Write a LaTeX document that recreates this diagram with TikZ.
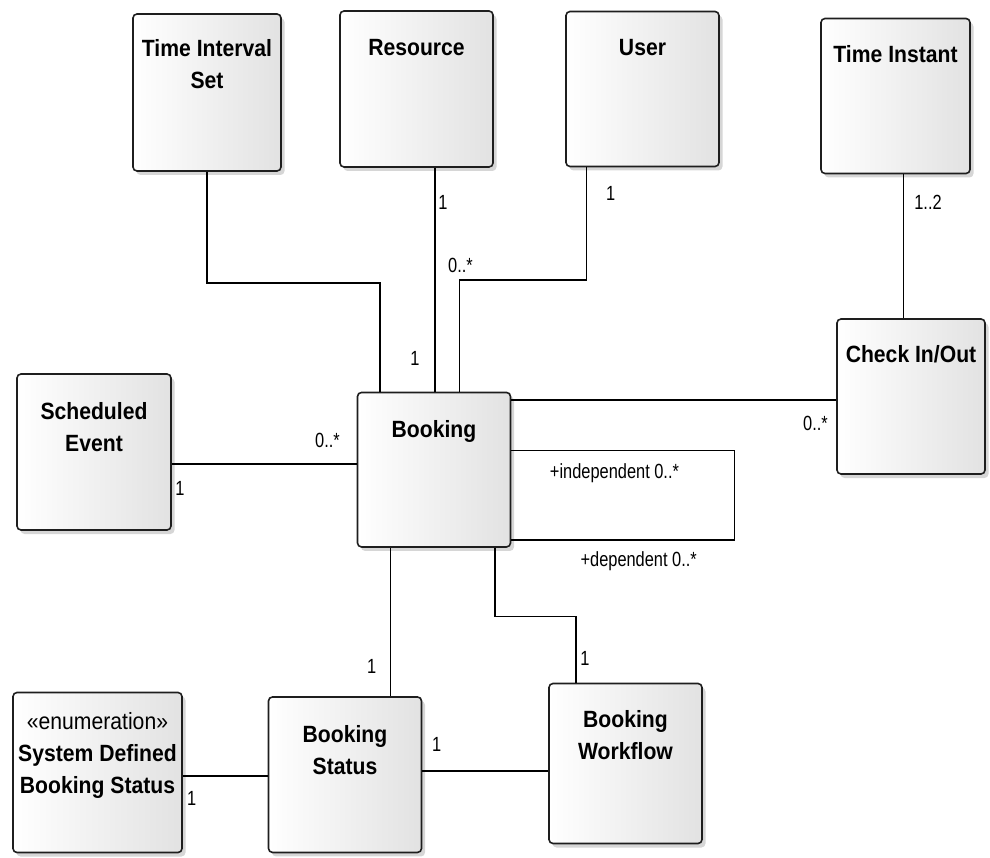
\documentclass[tikz,border=0pt]{standalone}
\usepackage{fontspec}
\newfontfamily\ttlfont{Liberation Sans}[FakeStretch=0.9]
\newfontfamily\lblfont{Liberation Sans}[FakeStretch=0.8]
\usetikzlibrary{shadows}
\definecolor{boxline}{RGB}{30,30,30}
\definecolor{boxgray}{RGB}{226,226,226}
\begin{document}
\begin{tikzpicture}[x=1pt,y=-1pt,
  umlbox/.style={draw=boxline, line width=1.6pt, rounded corners=4pt,
    left color=white, right color=boxgray,
    drop shadow={shadow xshift=3.5pt, shadow yshift=-4pt, fill=black, opacity=0.16},
    inner sep=0pt},
  ttl/.style={font=\ttlfont\bfseries\fontsize{23.5}{32}\selectfont, align=center,
    inner sep=0pt, anchor=north},
  lbl/.style={font=\lblfont\fontsize{20.5}{24}\selectfont, inner sep=0pt},
  assoc/.style={line width=1.4pt, draw=black}]
\useasboundingbox (0,0) rectangle (990,858);

% classes
\node[umlbox, minimum width=148pt, minimum height=157pt] (tis) at (207,92.5) {};
\node[umlbox, minimum width=153pt, minimum height=156pt] (res) at (416.5,89) {};
\node[umlbox, minimum width=153pt, minimum height=155pt] (usr) at (642.5,89) {};
\node[umlbox, minimum width=149pt, minimum height=155pt] (tin) at (895.5,96) {};
\node[umlbox, minimum width=148pt, minimum height=155pt] (chk) at (911,396.5) {};
\node[umlbox, minimum width=154pt, minimum height=156pt] (sch) at (94,452) {};
\node[umlbox, minimum width=153pt, minimum height=154.5pt] (bkg) at (434,469.7) {};
\node[umlbox, minimum width=169pt, minimum height=160pt] (sdb) at (97.5,772.5) {};
\node[umlbox, minimum width=153pt, minimum height=155.5pt] (bst) at (345,774.7) {};
\node[umlbox, minimum width=153pt, minimum height=160pt] (bwf) at (625.5,763.5) {};

% class names
\node[ttl] (tis-t) at ([yshift=-26.5pt]tis.north) {Time Interval\\Set};
\node[ttl] (res-t) at ([yshift=-28.5pt]res.north) {Resource};
\node[ttl] (usr-t) at ([yshift=-28pt]usr.north) {User};
\node[ttl] (tin-t) at ([yshift=-28pt]tin.north) {Time Instant};
\node[ttl] (chk-t) at ([yshift=-27.5pt]chk.north) {Check In/Out};
\node[ttl] (sch-t) at ([yshift=-29.5pt]sch.north) {Scheduled\\Event};
\node[ttl] (bkg-t) at ([yshift=-29pt]bkg.north) {Booking};
\node[ttl] (sdb-t) at ([yshift=-20.5pt]sdb.north) {{\mdseries «enumeration»}\\System Defined\\Booking Status};
\node[ttl] (bst-t) at ([yshift=-29.5pt]bst.north) {Booking\\Status};
\node[ttl] (bwf-t) at ([yshift=-28pt]bwf.north) {Booking\\Workflow};

% bend points of the associations
\coordinate (j1) at (380,283);
\coordinate (j2) at (586.7,280);
\coordinate (j3) at (459.3,280);
\coordinate (j4) at (435,0);
\coordinate (j5) at (903.3,0);
\coordinate (j6) at (0,400);
\coordinate (j7) at (0,464);
\coordinate (j8) at (734.3,450.7);
\coordinate (j9) at (734.3,540);
\coordinate (j10) at (390.7,0);
\coordinate (j11) at (495,616.7);
\coordinate (j12) at (576,616.7);
\coordinate (j13) at (0,771);
\coordinate (j14) at (0,776);

% associations
\draw[assoc] (tis.south) |- (j1) -- (j1 |- bkg.north);
\draw[assoc] (j4 |- res.south) -- (j4 |- bkg.north);
\draw[assoc] (j2 |- usr.south) -- (j2) -- (j3) -- (j3 |- bkg.north);
\draw[assoc] (j5 |- tin.south) -- (j5 |- chk.north);
\draw[assoc] (bkg.east |- j6) -- (chk.west |- j6);
\draw[assoc] (sch.east |- j7) -- (bkg.west |- j7);
\draw[assoc] (bkg.east |- j8) -- (j8) -- (j9) -- (bkg.east |- j9);
\draw[assoc] (j10 |- bkg.south) -- (j10 |- bst.north);
\draw[assoc] (j11 |- bkg.south) -- (j11) -- (j12) -- (j12 |- bwf.north);
\draw[assoc] (bst.east |- j13) -- (bwf.west |- j13);
\draw[assoc] (sdb.east |- j14) -- (bst.west |- j14);

% multiplicities and role names
\node[lbl] (m1) at (443,202) {1};
\node[lbl] (m2) at (415,358) {1};
\node[lbl] (m3) at (610.7,193) {1};
\node[lbl] (m4) at (460.5,265) {0..*};
\node[lbl] (m5) at (928,202) {1..2};
\node[lbl] (m6) at (815.5,423) {0..*};
\node[lbl] (m7) at (327.5,440) {0..*};
\node[lbl] (m8) at (180,488) {1};
\node[lbl] (m9) at (614.5,473) {+independent 0..*};
\node[lbl] (m10) at (638.7,561) {+dependent 0..*};
\node[lbl] (m11) at (371.7,666.7) {1};
\node[lbl] (m12) at (585,658) {1};
\node[lbl] (m13) at (436.7,744) {1};
\node[lbl] (m14) at (191.7,798) {1};
\end{tikzpicture}
\end{document}
